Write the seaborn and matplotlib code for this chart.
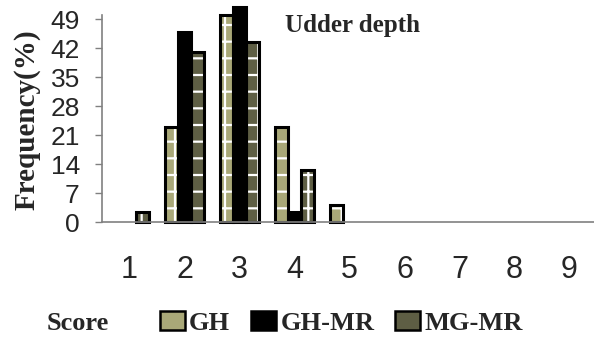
import matplotlib
matplotlib.use("Agg")
import matplotlib.pyplot as plt
import seaborn as sns
import pandas as pd
from matplotlib.patches import Rectangle, Patch

scores = ["1", "2", "3", "4", "5", "6", "7", "8", "9"]
gh = [0, 23, 50, 23, 4, 0, 0, 0, 0]
gh_mr = [0, 46, 52, 2.5, 0, 0, 0, 0, 0]
mg_mr = [2.5, 41, 43.5, 12.5, 0, 0, 0, 0, 0]
series = ["GH", "GH-MR", "MG-MR"]
yticks = [0, 7, 14, 21, 28, 35, 42, 49]

df = pd.DataFrame({
    "score": scores * 3,
    "freq": gh + gh_mr + mg_mr,
    "group": [series[0]] * 9 + [series[1]] * 9 + [series[2]] * 9,
})

sns.set_style("white")
plt.rcParams["font.family"] = ["Liberation Sans", "DejaVu Sans"]
plt.rcParams["hatch.linewidth"] = 1.6

fills = {"GH": "#a9a878", "GH-MR": "#000000", "MG-MR": "#5e5e44"}
hatches = {"GH": "+", "GH-MR": "", "MG-MR": "+"}
hatch_cols = {"GH": "#ffffff", "GH-MR": "#000000", "MG-MR": "#ffffff"}

fig = plt.figure(figsize=(5.94, 3.44), dpi=100)
ax = fig.add_axes([102 / 594, 122 / 344, 495 / 594, 207 / 344])

sns.barplot(data=df, x="score", y="freq", hue="group", order=scores,
            hue_order=series, palette=fills, width=0.7, ax=ax,
            legend=False, saturation=1, errorbar=None)

for cont, name in zip(ax.containers, series):
    for p in cont.patches:
        if p.get_height() <= 0:
            continue
        p.set_edgecolor(hatch_cols[name])
        p.set_linewidth(0)
        p.set_hatch(hatches[name])
        p.set_clip_on(False)
        outline = Rectangle(p.get_xy(), p.get_width(), p.get_height(),
                            fill=False, edgecolor="black", linewidth=2.2,
                            clip_on=False, zorder=p.get_zorder() + 0.1)
        ax.add_patch(outline)

ax.set_ylim(0, 50)
ax.set_xlim(-0.5, 8.5)
ax.set_yticks(yticks)
ax.set_yticklabels([str(v) for v in yticks], fontsize=19)
ax.tick_params(axis="y", length=5, width=1, color="#808080", pad=11,
               left=True, direction="out")
ax.tick_params(axis="x", length=0, pad=24, labelsize=22)
ax.set_xlabel("")
ax.set_ylabel("Frequency(%)", family=["Liberation Serif"], fontweight="bold",
              fontsize=21)
ax.yaxis.set_label_coords(-0.125, 0.493)

for s in ["top", "right"]:
    ax.spines[s].set_visible(False)
for s in ["left", "bottom"]:
    ax.spines[s].set_color("#808080")
    ax.spines[s].set_linewidth(1.2)

ax.text(0.37, 0.95, "Udder depth", transform=ax.transAxes,
        family=["Liberation Serif"], fontweight="bold", fontsize=18,
        va="center", ha="left")

fig.text(47 / 594, 1 - 323 / 344, "Score", family=["Liberation Serif"],
         fontweight="bold", fontsize=19, va="center", ha="left")

handles = []
for name in series:
    handles.append(Patch(facecolor=fills[name], edgecolor="black",
                         linewidth=1.8, label=name))
leg = fig.legend(handles=handles, labels=series, loc="center left",
                 bbox_to_anchor=(160 / 594, 1 - 323 / 344), ncol=3,
                 frameon=False, handlelength=0.95, handleheight=0.72,
                 handletextpad=0.15, columnspacing=0.8, borderpad=0,
                 borderaxespad=0,
                 prop={"family": "Liberation Serif", "weight": "bold", "size": 19})

fig.savefig("out.png", dpi=100)
